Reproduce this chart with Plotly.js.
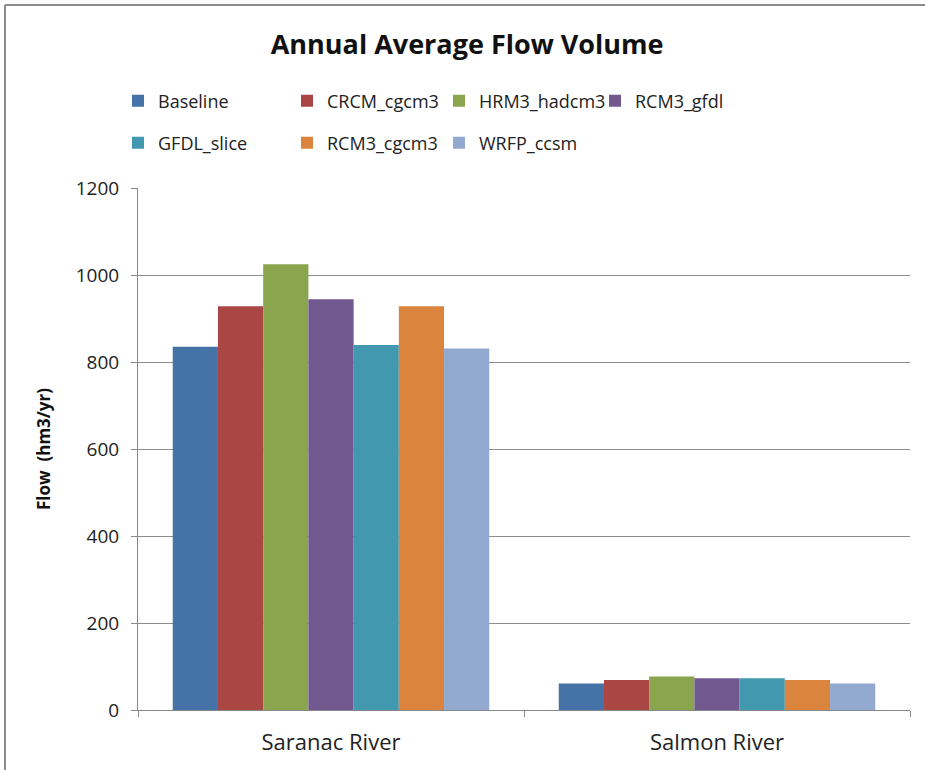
<!DOCTYPE html>
<html>
<head>
<meta charset="utf-8">
<script src="https://cdn.plot.ly/plotly-3.0.1.min.js"></script>
<style>body{margin:0;padding:0;background:#fff;}#chart{width:925px;height:770px;}</style>
</head>
<body>
<div id="chart"></div>
<script>
const categories = ["Saranac River", "Salmon River"];
const seriesNames = ["Baseline", "CRCM_cgcm3", "HRM3_hadcm3", "RCM3_gfdl", "GFDL_slice", "RCM3_cgcm3", "WRFP_ccsm"];
const baseline   = [835, 61];
const crcmCgcm3  = [928, 69];
const hrm3Hadcm3 = [1025, 77];
const rcm3Gfdl   = [944, 73];
const gfdlSlice  = [839, 73];
const rcm3Cgcm3  = [928, 69];
const wrfpCcsm   = [831, 61];
const seriesValues = [baseline, crcmCgcm3, hrm3Hadcm3, rcm3Gfdl, gfdlSlice, rcm3Cgcm3, wrfpCcsm];
const colors = ["#4572A7", "#AA4643", "#89A54E", "#71588F", "#4198AF", "#DB843D", "#93A9CF"];
const yTicks = [0, 200, 400, 600, 800, 1000, 1200];

const FONT = "'Open Sans', sans-serif";

// legend placement (pixel positions of each legend entry's marker, row centres)
const PLOT_L = 138, PLOT_W = 772, PLOT_B = 710, PLOT_H = 522;
const legendMarkerX = [133, 302, 454, 610, 133, 302, 454];
const legendRowY = [101, 101, 101, 101, 143, 143, 143];

const legendKey = i => (i === 0 ? "legend" : "legend" + (i + 1));

const traces = seriesNames.map((name, i) => ({
  type: "bar",
  name: name,
  x: categories,
  y: seriesValues[i],
  marker: {color: colors[i], line: {width: 0}},
  legend: legendKey(i),
  hoverinfo: "x+y+name"
}));

const layout = {
  width: 925,
  height: 770,
  margin: {l: PLOT_L, r: 925 - PLOT_L - PLOT_W, t: PLOT_B - PLOT_H, b: 770 - PLOT_B},
  paper_bgcolor: "#fff",
  plot_bgcolor: "#fff",
  font: {family: FONT, color: "#222"},
  title: {
    text: "<b>Annual Average Flow Volume</b>",
    font: {family: FONT, size: 27, color: "#111"},
    x: 0.505, xanchor: "center",
    y: 0.942, yanchor: "middle"
  },
  barmode: "group",
  bargap: 0.18,
  bargroupgap: 0,
  showlegend: true,
  xaxis: {
    type: "category",
    showgrid: false,
    showline: true,
    linecolor: "#888",
    linewidth: 1,
    ticks: "outside",
    tickson: "boundaries",
    ticklen: 6,
    tickcolor: "#888",
    ticklabelstandoff: 13,
    tickfont: {family: FONT, size: 22, color: "#222"},
    zeroline: false
  },
  yaxis: {
    range: [0, 1200],
    tickvals: yTicks,
    showgrid: true,
    gridcolor: "#8c8c8c",
    gridwidth: 1,
    showline: true,
    linecolor: "#888",
    linewidth: 1,
    ticks: "outside",
    ticklen: 6,
    tickcolor: "#888",
    ticklabelstandoff: 8,
    tickfont: {family: FONT, size: 19, color: "#222"},
    zeroline: false,
    title: {
      text: "<b>Flow  (hm3/yr)</b>",
      font: {family: FONT, size: 17, color: "#111"},
      standoff: 20
    }
  },
  shapes: [
    {type: "line", xref: "paper", yref: "paper",
     x0: (5 - PLOT_L) / PLOT_W, x1: (930 - PLOT_L) / PLOT_W,
     y0: (PLOT_B - 5) / PLOT_H, y1: (PLOT_B - 5) / PLOT_H,
     line: {color: "#8c8c8c", width: 2}},
    {type: "line", xref: "paper", yref: "paper",
     x0: (5 - PLOT_L) / PLOT_W, x1: (5 - PLOT_L) / PLOT_W,
     y0: (PLOT_B - 5) / PLOT_H, y1: (PLOT_B - 780) / PLOT_H,
     line: {color: "#8c8c8c", width: 2}}
  ]
};

seriesNames.forEach((name, i) => {
  layout[legendKey(i)] = {
    orientation: "h",
    itemwidth: 30,
    font: {family: FONT, size: 18, color: "#222"},
    bgcolor: "rgba(0,0,0,0)",
    xanchor: "left",
    yanchor: "middle",
    x: (legendMarkerX[i] - 15 - PLOT_L) / PLOT_W,
    y: (PLOT_B - legendRowY[i]) / PLOT_H
  };
});

Plotly.newPlot("chart", traces, layout, {displayModeBar: false, responsive: false});
</script>
</body>
</html>
